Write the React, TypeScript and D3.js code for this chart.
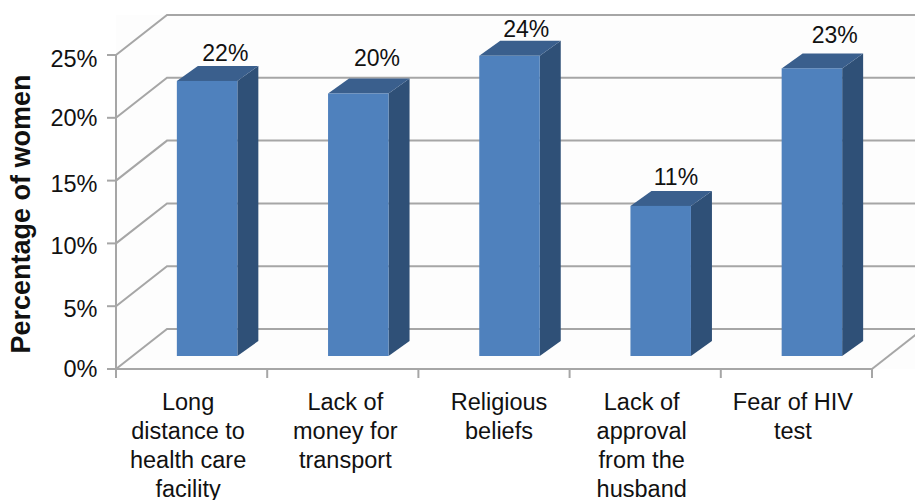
import React from "react";
import * as d3 from "d3";

const categories = ["c1", "c2", "c3", "c4", "c5"];
const categoryLines = [
  ["Long", "distance to", "health care", "facility"],
  ["Lack of", "money for", "transport"],
  ["Religious", "beliefs"],
  ["Lack of", "approval", "from the", "husband"],
  ["Fear of HIV", "test"],
];
const categoryShift = [-3.5, 2.5, 5, -3.5, -3.5];
const barHeights = [21.9, 20.9, 23.9, 11.95, 22.9];
const barLabels = ["22%", "20%", "24%", "11%", "23%"];
const labelOffsetX = [-12, -11.5, -13.5, -15, -7.5];
const labelOffsetY = [-5, -12, -4, -6, -10];
const yTicks = [0, 5, 10, 15, 20, 25];
const yLabelShift = [8, 11, 10.5, 11, 8.5, 11.5];

const FONT = "'Liberation Sans', Arial, sans-serif";
const GRID = "#a6a6a6";

export default function App() {
  const y = d3.scaleLinear().domain([0, 25]).range([369, 55]);
  const x = d3.scaleBand().domain(categories).range([116, 872]);
  const wallDx = 51;
  const wallDy = -40;
  const barDx = 21;
  const barDy = -15;
  const barW = 60.5;
  const barBaseShift = -13;
  const poly = (pts: [number, number][]) => pts.map((p) => p.join(",")).join(" ");
  const line = d3.line();

  return (
    <svg
      width={915}
      height={500}
      style={{ position: "absolute", left: 0, top: 0, background: "#fff" }}
      fontFamily={FONT}
    >
      <rect x={116} y={15} width={799} height={354} fill="#fdfdfd" />
      {yTicks.map((t, i) => (
        <g key={t}>
          <path
            d={line([
              [116, y(t)],
              [116 + wallDx, y(t) + wallDy],
              [915, y(t) + wallDy],
            ]) as string}
            fill="none"
            stroke={GRID}
            strokeWidth={2}
          />
          <line x1={107} x2={116} y1={y(t)} y2={y(t)} stroke={GRID} strokeWidth={2} />
          <text x={97.5} y={y(t) + yLabelShift[i]} textAnchor="end" fontSize={23.5} fill="#111">
            {t}%
          </text>
        </g>
      ))}
      <line x1={116} x2={116} y1={y(25)} y2={y(0) + 9} stroke={GRID} strokeWidth={2} />
      <line x1={107} x2={872} y1={y(0)} y2={y(0)} stroke={GRID} strokeWidth={2} />
      <line x1={872} x2={923} y1={y(0)} y2={y(0) + wallDy} stroke={GRID} strokeWidth={2} />
      {[...categories.map((c) => x(c) as number), 872].map((tx) => (
        <line key={tx} x1={tx} x2={tx} y1={y(0)} y2={y(0) + 9} stroke={GRID} strokeWidth={2} />
      ))}
      {categories.map((c, i) => {
        const center = (x(c) as number) + x.bandwidth() / 2;
        const left = center + 15.5 - barW / 2;
        const right = left + barW;
        const bottom = y(0) + barBaseShift;
        const top = y(barHeights[i]) + barBaseShift;
        return (
          <g key={c}>
            <polygon
              points={poly([
                [right, top],
                [right + barDx, top + barDy],
                [right + barDx, bottom + barDy],
                [right, bottom],
              ])}
              fill="#2f5077"
            />
            <polygon
              points={poly([
                [left, top],
                [left + barDx, top + barDy],
                [right + barDx, top + barDy],
                [right, top],
              ])}
              fill="#3a5f8d"
            />
            <rect x={left} y={top} width={barW} height={bottom - top} fill="#4f81bd" />
            <text
              x={right + labelOffsetX[i]}
              y={y(barHeights[i]) + barBaseShift + barDy + labelOffsetY[i]}
              textAnchor="middle"
              fontSize={23}
              fill="#111"
            >
              {barLabels[i]}
            </text>
            {categoryLines[i].map((l, j) => (
              <text
                key={j}
                x={center + categoryShift[i]}
                y={410 + j * 29}
                textAnchor="middle"
                fontSize={23.5}
                fill="#111"
              >
                {l}
              </text>
            ))}
          </g>
        );
      })}
      <text
        transform="translate(30,214) rotate(-90)"
        textAnchor="middle"
        fontSize={27}
        fontWeight="bold"
        fill="#111"
      >
        Percentage of women
      </text>
    </svg>
  );
}
